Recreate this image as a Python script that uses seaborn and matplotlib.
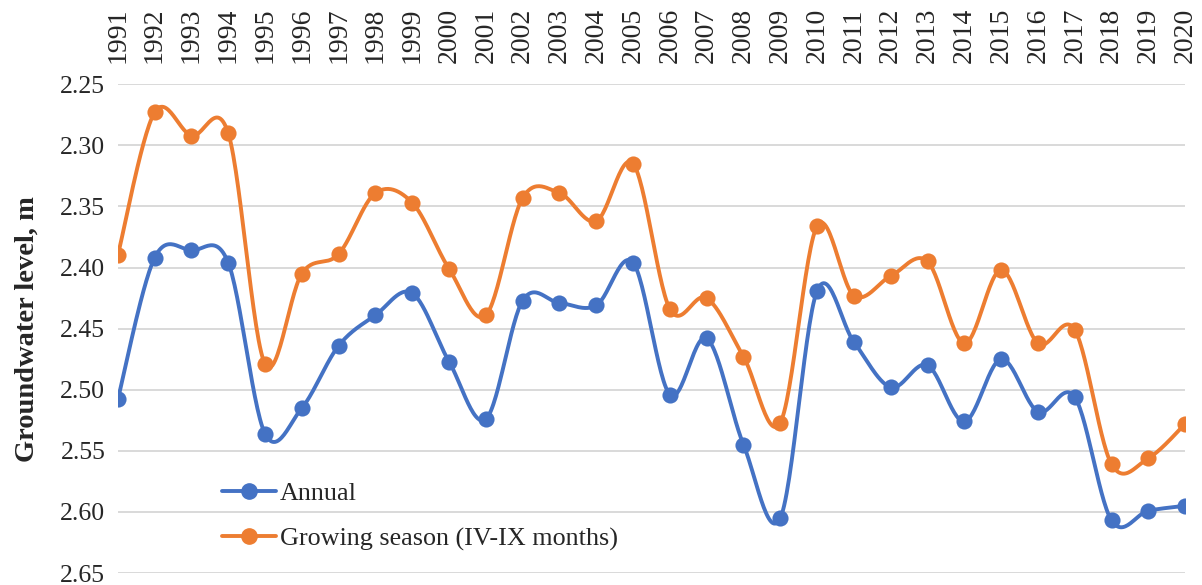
import numpy as np
import pandas as pd
import matplotlib
matplotlib.use("Agg")
import matplotlib.pyplot as plt
from matplotlib.lines import Line2D
import seaborn as sns

years = list(range(1991, 2021))
annual = [2.508, 2.392, 2.386, 2.396, 2.536, 2.515, 2.464, 2.439, 2.421, 2.477,
          2.524, 2.427, 2.429, 2.431, 2.396, 2.504, 2.458, 2.545, 2.605, 2.419,
          2.461, 2.498, 2.480, 2.526, 2.475, 2.518, 2.506, 2.607, 2.599, 2.595]
growing = [2.390, 2.273, 2.292, 2.290, 2.479, 2.405, 2.389, 2.339, 2.347, 2.401,
           2.439, 2.343, 2.339, 2.362, 2.315, 2.434, 2.425, 2.473, 2.527, 2.366,
           2.423, 2.407, 2.395, 2.462, 2.402, 2.462, 2.451, 2.561, 2.556, 2.528]
series_names = ["Annual", "Growing season (IV-IX months)"]
colors = ["#4472C4", "#ED7D31"]
y_ticks = [2.25, 2.30, 2.35, 2.40, 2.45, 2.50, 2.55, 2.60, 2.65]


def smooth(xs, ys, n=30):
    xs = np.asarray(xs, float)
    ys = np.asarray(ys, float)
    P = np.column_stack([xs, ys])
    Pp = np.vstack([P[0], P, P[-1]])
    out = []
    t = np.linspace(0, 1, n)
    for i in range(len(P) - 1):
        p0, p1, p2, p3 = Pp[i], Pp[i + 1], Pp[i + 2], Pp[i + 3]
        c1 = p1 + (p2 - p0) / 6.0
        c2 = p2 - (p3 - p1) / 6.0
        seg = ((1 - t)[:, None] ** 3 * p1 + 3 * ((1 - t) ** 2 * t)[:, None] * c1
               + 3 * ((1 - t) * t ** 2)[:, None] * c2 + (t ** 3)[:, None] * p2)
        out.append(seg if i == 0 else seg[1:])
    out = np.vstack(out)
    return out[:, 0], out[:, 1]


sns.set_theme(style="white")
plt.rcParams["font.family"] = ["Liberation Serif", "DejaVu Serif"]

fig = plt.figure(figsize=(12.02, 5.85), dpi=100)
ax = fig.add_axes([0.098, 0.0205, 0.888, 0.8355])

for vals, name, col in zip([annual, growing], series_names, colors):
    sx, sy = smooth(years, vals)
    sns.lineplot(x=sx, y=sy, ax=ax, color=col, lw=2.8, sort=False,
                 estimator=None, legend=False, zorder=3)
    sns.scatterplot(x=years, y=vals, ax=ax, color=col, s=135, edgecolor=col,
                    linewidth=0, legend=False, zorder=4)

ax.set_xlim(years[0], years[-1])
ax.set_ylim(2.65, 2.25)
ax.set_yticks(y_ticks)
ax.set_yticklabels([f"{v:.2f}" for v in y_ticks], fontsize=18.5)
ax.set_xticks(years)
ax.set_xticklabels([str(y) for y in years], rotation=90, fontsize=20)
ax.xaxis.tick_top()
ax.tick_params(axis="x", length=0, pad=15)
ax.tick_params(axis="y", length=0, pad=9)
ax.grid(axis="y", color="#D9D9D9", lw=1.4)
ax.grid(axis="x", visible=False)
for s in ax.spines.values():
    s.set_visible(False)
ax.set_xlabel("")
ax.set_ylabel("Groundwater level, m", fontsize=20.5, fontweight="bold", labelpad=15)

handles = [Line2D([0], [0], color=c, lw=2.8, marker="o", markersize=11) for c in colors]
fig.legend(handles, series_names, loc="center left",
           bbox_to_anchor=(222 / 1202, 1 - 516 / 585), bbox_transform=fig.transFigure,
           frameon=False, fontsize=18.8, handlelength=2.05, handletextpad=0.18,
           labelspacing=0.85, borderpad=0, borderaxespad=0)

fig.savefig("out.png", dpi=100)
